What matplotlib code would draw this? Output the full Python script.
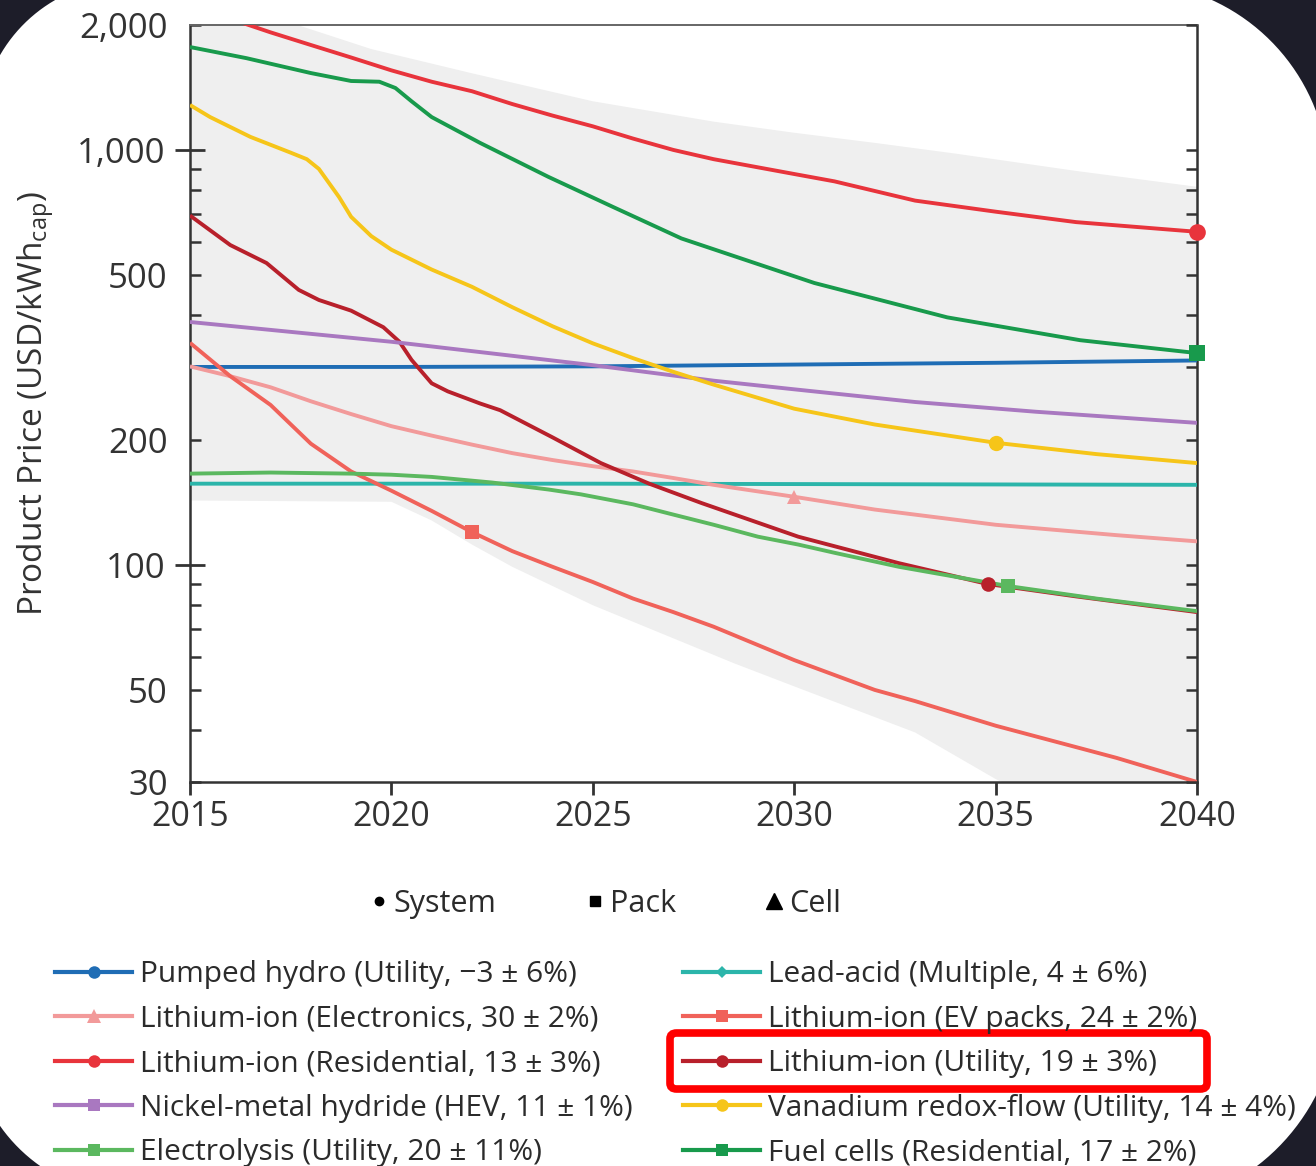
import numpy as np
import matplotlib
matplotlib.use('Agg')
import matplotlib.pyplot as plt
from matplotlib.lines import Line2D
from matplotlib.patches import Polygon, FancyBboxPatch
from matplotlib.ticker import FixedLocator, FixedFormatter, NullLocator

plt.rcParams['font.family'] = ['Open Sans', 'DejaVu Sans']
plt.rcParams['mathtext.fontset'] = 'custom'
plt.rcParams['mathtext.rm'] = 'Open Sans'

W, H = 1316, 1166  # canvas size in px

# product price trajectories (USD/kWh_cap)
hydro_yr = [2015, 2020, 2025, 2030, 2035, 2040]
hydro_usd = [300, 300, 301, 304, 307, 311]

lead_yr = [2015, 2025, 2040]
lead_usd = [157, 157, 156]

elec_yr = [2015, 2016, 2017, 2018, 2019, 2020, 2021, 2022, 2023, 2024, 2025,
           2026, 2027, 2028, 2030, 2032, 2035, 2038, 2040]
elec_usd = [301, 285, 268, 248, 231, 216, 205, 195, 186, 179, 173,
            168, 162, 156, 146, 136, 125, 118, 114]

ev_yr = [2015, 2016, 2017, 2018, 2019, 2020, 2021, 2022, 2023, 2024, 2025,
         2026, 2027, 2028, 2030, 2032, 2033, 2035, 2038, 2040]
ev_usd = [343, 285, 243, 196, 168, 151, 135, 120, 108, 99, 91,
          83, 77, 71, 59, 50, 47, 41, 34.3, 30]

resi_yr = [2015, 2016, 2017, 2018, 2019, 2020, 2021, 2022, 2023, 2024, 2025,
           2026, 2027, 2028, 2030, 2031, 2033, 2035, 2037, 2040]
resi_usd = [2250, 2070, 1920, 1790, 1670, 1555, 1460, 1385, 1290, 1210, 1140,
            1065, 1000, 950, 875, 840, 755, 710, 670, 635]

util_yr = [2015, 2016, 2016.9, 2017.7, 2018.2, 2019, 2019.8, 2020.2, 2020.5,
           2021, 2021.4, 2022.2, 2022.7, 2024, 2025.2, 2026.4, 2027.7, 2030.1,
           2032.6, 2034.8, 2037, 2040]
util_usd = [695, 590, 534, 460, 435, 410, 374, 345, 312,
            274, 262, 245, 236, 203, 176, 157, 141, 117,
            101, 90, 84, 77]

nimh_yr = [2015, 2020, 2025, 2028, 2030, 2033, 2036, 2040]
nimh_usd = [385, 345, 303, 278, 265, 247, 234, 220]

vrfb_yr = [2015, 2015.5, 2016.5, 2017.5, 2017.9, 2018.2, 2018.7, 2019, 2019.5,
           2020, 2021, 2022, 2023, 2024, 2025, 2026, 2027, 2028, 2030, 2032,
           2035, 2037.5, 2040]
vrfb_usd = [1283, 1200, 1075, 985, 950, 900, 770, 690, 620,
            575, 515, 468, 418, 376, 342, 315, 292, 272, 238, 218,
            197, 185, 176]

lyz_yr = [2015, 2017, 2019, 2020, 2021, 2022.5, 2023.9, 2024.7, 2026, 2026.9,
          2028, 2029.1, 2030.1, 2031, 2032.6, 2035.3, 2037.5, 2040]
lyz_usd = [166, 167, 166, 165, 163, 158, 152, 148, 140, 133,
           125, 117, 112, 107, 99, 89, 83, 77.4]

fc_yr = [2015, 2016.4, 2018, 2019, 2019.7, 2020.1, 2020.5, 2021, 2022.2,
         2023.9, 2025.5, 2027.2, 2030.5, 2033.8, 2037.1, 2040]
fc_usd = [1770, 1664, 1532, 1466, 1460, 1410, 1310, 1200, 1040,
          861, 729, 612, 478, 395, 348, 324]

# uncertainty envelope
band_hi_yr = [2015, 2017, 2019.5, 2022, 2025, 2028, 2030, 2032, 2034, 2037, 2040]
band_hi = [2400, 2100, 1750, 1530, 1310, 1170, 1100, 1040, 980, 890, 815]
band_lo_yr = [2015, 2020, 2021, 2022, 2023, 2025, 2028.5, 2030, 2033, 2035, 2040]
band_lo = [143, 142, 128, 112, 99, 80, 58, 51, 39.5, 30.5, 18]

years = [2015, 2020, 2025, 2030, 2035, 2040]

# label, x, y, colour, marker, marker year, marker size
series = [
    ('Pumped hydro (Utility, \u22123 \u00b1 6%)', hydro_yr, hydro_usd, '#1f6db5', 'o', None, 0),
    ('Lead-acid (Multiple, 4 \u00b1 6%)', lead_yr, lead_usd, '#2bb5aa', 'D', None, 0),
    ('Lithium-ion (Electronics, 30 \u00b1 2%)', elec_yr, elec_usd, '#f29a9a', '^', 2030, 10),
    ('Lithium-ion (EV packs, 24 \u00b1 2%)', ev_yr, ev_usd, '#f0625a', 's', 2022, 10),
    ('Lithium-ion (Residential, 13 \u00b1 3%)', resi_yr, resi_usd, '#e8343c', 'o', 2040, 12),
    ('Lithium-ion (Utility, 19 \u00b1 3%)', util_yr, util_usd, '#b8202b', 'o', 2034.8, 10.5),
    ('Nickel-metal hydride (HEV, 11 \u00b1 1%)', nimh_yr, nimh_usd, '#a978c0', 's', None, 0),
    ('Vanadium redox-flow (Utility, 14 \u00b1 4%)', vrfb_yr, vrfb_usd, '#f6c519', 'o', 2035, 11),
    ('Electrolysis (Utility, 20 \u00b1 11%)', lyz_yr, lyz_usd, '#5bb85f', 's', 2035.3, 10.5),
    ('Fuel cells (Residential, 17 \u00b1 2%)', fc_yr, fc_usd, '#189a4c', 's', 2040, 12),
]

fig = plt.figure(figsize=(W / 100, H / 100), dpi=100)
fig.patch.set_facecolor('#1d1d29')

# white card with rounded corners behind everything
corners = [((130, 130), 150, 180, 270), ((1129, 182), 200, 270, 360),
           ((1130, 1000), 209, 0, 90), ((135, 1031), 165, 90, 180)]
pts = []
for (cx, cy), r, a0, a1 in corners:
    t = np.radians(np.linspace(a0, a1, 40))
    pts += list(zip(cx + r * np.cos(t), cy + r * np.sin(t)))
pts = np.array(pts)
card = Polygon(np.c_[pts[:, 0] / W, 1 - pts[:, 1] / H], closed=True,
               transform=fig.transFigure, fc='white', ec='none', zorder=0)
fig.add_artist(card)

ax = fig.add_axes([190 / W, 1 - 782 / H, (1197 - 190) / W, (782 - 25) / H])
ax.set_yscale('log')
ax.set_xlim(2015, 2040)
ax.set_ylim(30, 2000)

ax.fill(np.r_[band_hi_yr, band_lo_yr[::-1]], np.r_[band_hi, band_lo[::-1]],
        color='#efefef', lw=0, zorder=1)

for label, xs, ys, col, mk, myr, ms in series:
    ax.plot(xs, ys, color=col, lw=2.8, solid_capstyle='butt', zorder=3)
    if myr is not None:
        i = xs.index(myr)
        ax.plot(xs[i], ys[i], ls='none', marker=mk, markersize=ms, color=col,
                markeredgewidth=0, zorder=4, clip_on=False)

# y ticks: 100 and 1,000 cross the spine, the rest point inward
major = [100, 1000]
minor = [30, 40, 50, 60, 70, 80, 90, 200, 300, 400, 500, 600, 700, 800, 900, 2000]
minor_lbl = {30: '30', 50: '50', 200: '200', 500: '500', 2000: '2,000'}
ax.yaxis.set_major_locator(FixedLocator(major))
ax.yaxis.set_major_formatter(FixedFormatter(['100', '1,000']))
ax.yaxis.set_minor_locator(FixedLocator(minor))
ax.yaxis.set_minor_formatter(FixedFormatter([minor_lbl.get(v, '') for v in minor]))
ax.tick_params(axis='y', which='major', direction='inout', length=22, width=2,
               pad=7, labelsize=25, labelcolor='#333333', color='#333333')
ax.tick_params(axis='y', which='minor', direction='in', length=8, width=1.8,
               pad=16, labelsize=25, labelcolor='#333333', color='#333333')

ax.set_xticks(years)
ax.xaxis.set_minor_locator(NullLocator())
ax.tick_params(axis='x', direction='out', length=9, width=2, pad=4,
               labelsize=24.5, labelcolor='#333333', color='#333333')

for side in ['left', 'bottom', 'right']:
    ax.spines[side].set_color('#333333')
    ax.spines[side].set_linewidth(1.8)
ax.spines['top'].set_color('#666666')
ax.spines['top'].set_linewidth(1.4)

ax_r = ax.twinx()
ax_r.set_yscale('log')
ax_r.set_ylim(30, 2000)
ax_r.yaxis.set_major_locator(FixedLocator(major + minor))
ax_r.yaxis.set_minor_locator(NullLocator())
ax_r.tick_params(axis='y', direction='in', length=8, width=1.8,
                 labelright=False, color='#333333')
for s in ax_r.spines.values():
    s.set_visible(False)

ax.set_ylabel('Product Price (USD/kWh$_{\\mathrm{cap}}$)', fontsize=24,
              color='#333333')
ax.yaxis.set_label_coords(-0.132, 0.5)

# legends
def handle(col, mk, ms):
    return Line2D([], [], color=col, lw=3, marker=mk, markersize=ms,
                  markeredgewidth=0)

hsize = {'o': 9, 's': 9, '^': 10, 'D': 6}
handles = [handle(s[3], s[4], hsize[s[4]]) for s in series]
labels = [s[0] for s in series]
col1 = [0, 2, 4, 6, 8]
col2 = [1, 3, 5, 7, 9]
for idx, x0 in [(col1, 55), (col2, 683)]:
    fig.legend([handles[i] for i in idx], [labels[i] for i in idx],
               loc='upper left', bbox_to_anchor=(x0 / W, 1 - 960 / H),
               frameon=False, fontsize=21.5, handlelength=2.58,
               handletextpad=0.27, labelspacing=0.52, borderpad=0,
               borderaxespad=0, labelcolor='#2b2b2b')

kinds = [Line2D([], [], ls='none', marker='o', color='black', markersize=6),
         Line2D([], [], ls='none', marker='s', color='black', markersize=7),
         Line2D([], [], ls='none', marker='^', color='black', markersize=12)]
fig.legend(kinds, ['System', 'Pack', 'Cell'], ncol=3, loc='center left',
           bbox_to_anchor=(371 / W, 1 - 904 / H), frameon=False, fontsize=22,
           handlelength=0.5, handletextpad=0.25, columnspacing=2.95,
           borderpad=0, borderaxespad=0, labelcolor='#2b2b2b')

box = FancyBboxPatch((670 / W, 1 - 1089 / H), (1207 - 670) / W, (1089 - 1033) / H,
                     boxstyle='round,pad=0,rounding_size=0.005',
                     transform=fig.transFigure, ec='#ff0000', fc='none', lw=5.5)
fig.add_artist(box)

fig.savefig('out.png', dpi=100, facecolor=fig.get_facecolor())
